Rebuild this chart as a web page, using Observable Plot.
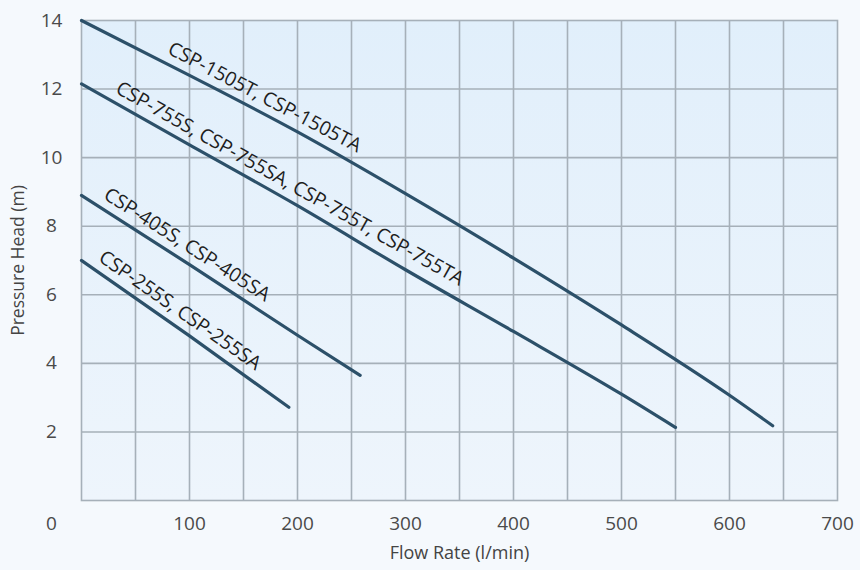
<!DOCTYPE html>
<html><head><meta charset="utf-8">
<script src="https://cdn.jsdelivr.net/npm/d3@7"></script>
<script src="https://cdn.jsdelivr.net/npm/@observablehq/plot@0.6"></script>
<style>
html,body{margin:0;padding:0;background:#f5f9fd;}
#chart{width:860px;height:570px;}
</style></head><body><div id="chart"></div>
<script>
// ---- data ----
const xTicks = [100, 200, 300, 400, 500, 600, 700];
const yTicks = [2, 4, 6, 8, 10, 12, 14];
const originLabel = ["0"];
const xGrid = [50, 100, 150, 200, 250, 300, 350, 400, 450, 500, 550, 600, 650];
const yGrid = [2, 4, 6, 8, 10, 12];

const seriesNames = [
  "CSP-1505T, CSP-1505TA",
  "CSP-755S, CSP-755SA, CSP-755T, CSP-755TA",
  "CSP-405S, CSP-405SA",
  "CSP-255S, CSP-255SA"
];
const flow1505 = [0, 100, 200, 300, 400, 500, 600, 640];
const head1505 = [14.0, 12.40, 10.75, 8.95, 7.07, 5.12, 3.07, 2.18];
const flow755 = [0, 100, 200, 300, 400, 500, 550];
const head755 = [12.15, 10.37, 8.6, 6.73, 4.93, 3.1, 2.13];
const flow405 = [0, 100, 200, 258];
const head405 = [8.9, 6.88, 4.82, 3.65];
const flow255 = [0, 100, 192];
const head255 = [7.0, 4.8, 2.72];
// flow value along each curve where its label sits
const labelFlow = [163, 186, 90, 83];

const xTitle = "Flow Rate (l/min)";
const yTitle = "Pressure Head (m)";

// ---- layout ----
const W = 860, H = 570;
const mT = 20, mR = 23, mB = 70, mL = 81;
const xDomain = [0, 700], yDomain = [0, 14];
const kx = (W - mL - mR) / (xDomain[1] - xDomain[0]);
const ky = (H - mT - mB) / (yDomain[1] - yDomain[0]);

const flows = [flow1505, flow755, flow405, flow255];
const heads = [head1505, head755, head405, head255];
const rows = [];
seriesNames.forEach((name, s) => {
  flows[s].forEach((f, i) => rows.push({series: name, flow: f, head: heads[s][i]}));
});

const lineColor = "#2c5069";
const gridColor = "#a6b0b9";
const labelOffset = 15.5;

function labelMark(s) {
  const xs = flows[s], ys = heads[s], x0 = labelFlow[s];
  let i = 0;
  while (i < xs.length - 2 && xs[i + 1] < x0) i++;
  const m = (ys[i + 1] - ys[i]) / (xs[i + 1] - xs[i]);
  const y0 = ys[i] + m * (x0 - xs[i]);
  const theta = Math.atan(-m * ky / kx);
  const deg = theta * 180 / Math.PI;
  return Plot.text([{flow: x0, head: y0, t: seriesNames[s]}], {
    x: "flow", y: "head", text: "t",
    rotate: deg,
    dx: labelOffset * Math.sin(theta),
    dy: -labelOffset * Math.cos(theta),
    textAnchor: "middle", lineAnchor: "middle",
    fontSize: 19.5, fill: "#1e1e1e"
  });
}

const chart = Plot.plot({
  width: W, height: H,
  marginTop: mT, marginRight: mR, marginBottom: mB, marginLeft: mL,
  x: {domain: xDomain, axis: null},
  y: {domain: yDomain, axis: null},
  style: {background: "transparent", fontFamily: "'Open Sans', sans-serif"},
  marks: [
    Plot.frame({fill: "url(#plotbg)", stroke: "none"}),
    Plot.gridX(xGrid, {stroke: gridColor, strokeOpacity: 1, strokeWidth: 1.6}),
    Plot.gridY(yGrid, {stroke: gridColor, strokeOpacity: 1, strokeWidth: 1.6}),
    Plot.frame({stroke: gridColor, strokeWidth: 1.6}),
    Plot.line(rows, {x: "flow", y: "head", z: "series", stroke: lineColor, strokeWidth: 3.2, curve: "monotone-x", strokeLinecap: "round"}),
    ...seriesNames.map((_, s) => labelMark(s)),
    Plot.text(xTicks, {x: d => d, frameAnchor: "bottom", dy: 23, lineAnchor: "middle", textAnchor: "middle", fontSize: 19, fill: "#4a4a4a"}),
    Plot.text(yTicks, {y: d => d, frameAnchor: "left", dx: -30, lineAnchor: "middle", textAnchor: "middle", fontSize: 19, fill: "#4a4a4a"}),
    Plot.text(originLabel, {frameAnchor: "bottom-left", dx: -30, dy: 23, lineAnchor: "middle", textAnchor: "middle", fontSize: 19, fill: "#4a4a4a"}),
    Plot.text([xTitle], {frameAnchor: "bottom", dy: 53, lineAnchor: "middle", textAnchor: "middle", fontSize: 18, fill: "#444"}),
    Plot.text([yTitle], {frameAnchor: "left", dx: -63, rotate: -90, lineAnchor: "middle", textAnchor: "middle", fontSize: 17.5, fill: "#444"})
  ]
});

// gradient for the plotting area
const defs = d3.select(chart).insert("defs", ":first-child");
const g = defs.append("linearGradient").attr("id", "plotbg")
  .attr("x1", 0).attr("y1", 0).attr("x2", 0).attr("y2", 1);
g.append("stop").attr("offset", "0%").attr("stop-color", "#e1effb");
g.append("stop").attr("offset", "100%").attr("stop-color", "#eef5fc");

document.getElementById("chart").appendChild(chart);
</script>
</body></html>
